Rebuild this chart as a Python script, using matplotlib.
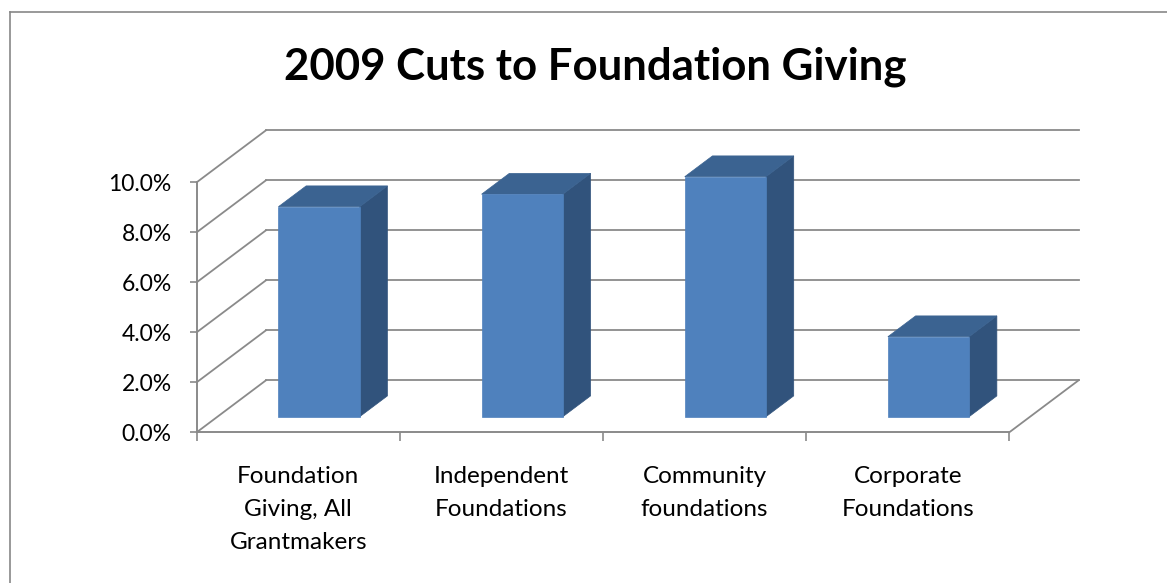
import matplotlib
matplotlib.use("Agg")
import matplotlib.pyplot as plt
from matplotlib.patches import Polygon
from matplotlib.lines import Line2D

# ---- data ----
title = "2009 Cuts to Foundation Giving"
categories = ["Foundation\nGiving, All\nGrantmakers", "Independent\nFoundations",
              "Community\nfoundations", "Corporate\nFoundations"]
values = [8.4, 8.9, 9.6, 3.2]          # percent
yticks = [0, 2, 4, 6, 8, 10]
ytick_labels = ["0.0%", "2.0%", "4.0%", "6.0%", "8.0%", "10.0%"]

# ---- style ----
FRONT = "#4F81BD"
TOP = "#3B6391"
SIDE = "#31537C"
GRID = "#8A8A8A"
plt.rcParams["font.family"] = ["Lato", "DejaVu Sans"]

W, H = 1167, 583
fig = plt.figure(figsize=(W / 100, H / 100), dpi=100)
fig.patch.set_facecolor("white")

# front plane of the plot area in pixels
x_left, x_right = 196.7, 1009.3
y_zero, y_top = 432.3, 182.3
ax = fig.add_axes([x_left / W, (H - y_zero) / H, (x_right - x_left) / W, (y_zero - y_top) / H])
ax.set_xlim(0, len(categories))
ax.set_ylim(0, 10)
ax.patch.set_alpha(0)

# depth offset of the 3D box (data units)
px_per_cat = (x_right - x_left) / len(categories)
px_per_unit = (y_zero - y_top) / 10
DX = 69.3 / px_per_cat
DY = 52.0 / px_per_unit
ncat = len(categories)

# back wall gridlines + left wall diagonals
for v in yticks:
    ax.add_line(Line2D([DX, ncat + DX], [v + DY, v + DY], color=GRID, lw=1.3,
                       clip_on=False, zorder=1))
    ax.add_line(Line2D([0, DX], [v, v + DY], color=GRID, lw=1.3,
                       clip_on=False, zorder=1))
# floor right edge
ax.add_line(Line2D([ncat, ncat + DX], [0, DY], color=GRID, lw=1.3, clip_on=False, zorder=1))

# bars
gap = 0.3
d0, d1 = 0.3, 0.7
for i, v in enumerate(values):
    x0 = i + gap + d0 * DX
    x1 = i + 1 - gap + d0 * DX
    y0 = d0 * DY
    y1 = v + d0 * DY
    ddx = (d1 - d0) * DX
    ddy = (d1 - d0) * DY
    side = [(x1, y0), (x1 + ddx, y0 + ddy), (x1 + ddx, y1 + ddy), (x1, y1)]
    top = [(x0, y1), (x1, y1), (x1 + ddx, y1 + ddy), (x0 + ddx, y1 + ddy)]
    front = [(x0, y0), (x1, y0), (x1, y1), (x0, y1)]
    for poly, col in ((side, SIDE), (top, TOP), (front, FRONT)):
        ax.add_patch(Polygon(poly, closed=True, facecolor=col, edgecolor=col,
                             lw=0.5, clip_on=False, zorder=3))

# axes / spines
for s in ("top", "right"):
    ax.spines[s].set_visible(False)
for s in ("left", "bottom"):
    ax.spines[s].set_color(GRID)
    ax.spines[s].set_linewidth(1.4)
    ax.spines[s].set_zorder(2)

ax.set_yticks(yticks)
ax.set_yticklabels(ytick_labels)
ax.tick_params(axis="y", direction="out", length=5, width=1.2, color=GRID,
               labelsize=16.5, pad=13, labelcolor="black")

ax.set_xticks(range(ncat + 1))
ax.set_xticklabels([])
ax.tick_params(axis="x", which="major", direction="out", length=6.5, width=1.2, color=GRID)
ax.set_xticks([i + 0.5 for i in range(ncat)], minor=True)
ax.set_xticklabels(categories, minor=True, fontsize=17.5, linespacing=1.72)
ax.tick_params(axis="x", which="minor", length=0, pad=24, labelcolor="black")

# title
fig.text(595 / W, 1 - 80 / H, title, ha="center", va="baseline",
         fontsize=31.5, fontweight="bold", color="black")

# chart border (top and left edges visible)
fig.add_artist(Line2D([10 / W, 1.0], [1 - 11.5 / H, 1 - 11.5 / H], color="#878787", lw=1.2,
                      transform=fig.transFigure))
fig.add_artist(Line2D([10 / W, 10 / W], [1 - 11.5 / H, 0.0], color="#878787", lw=1.2,
                      transform=fig.transFigure))

fig.savefig("out.png", dpi=100, facecolor="white")
